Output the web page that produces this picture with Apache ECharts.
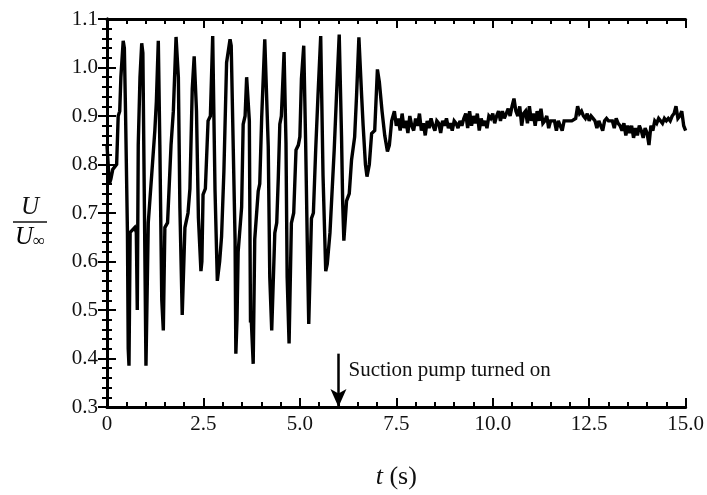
<!DOCTYPE html>
<html><head><meta charset="utf-8">
<script src="https://cdn.jsdelivr.net/npm/echarts@6/dist/echarts.min.js"></script>
<style>html,body{margin:0;padding:0;background:#fff}#c{width:707px;height:495px}</style>
</head><body><div id="c"></div>
<script>
// Oscillating part (key samples)
const oscTime = [0.00,0.03,0.06,0.10,0.15,0.20,0.25,0.29,0.33,0.36,0.42,0.45,0.48,0.53,0.55,0.57,0.60,0.64,0.72,0.76,0.785,0.81,0.855,0.90,0.93,0.97,1.01,1.07,1.16,1.24,1.28,1.33,1.37,1.42,1.46,1.50,1.57,1.66,1.72,1.79,1.85,1.89,1.95,2.02,2.10,2.15,2.21,2.26,2.32,2.37,2.435,2.46,2.49,2.55,2.62,2.68,2.74,2.80,2.86,2.92,2.97,3.03,3.10,3.19,3.22,3.27,3.32,3.34,3.37,3.40,3.49,3.53,3.58,3.62,3.65,3.69,3.72,3.74,3.79,3.83,3.92,3.96,4.01,4.09,4.18,4.22,4.27,4.35,4.40,4.44,4.48,4.52,4.59,4.64,4.67,4.72,4.78,4.84,4.90,4.96,5.00,5.04,5.10,5.15,5.20,5.23,5.30,5.35,5.41,5.47,5.54,5.60,5.67,5.71,5.78,5.89,5.95,6.02,6.08,6.11,6.14,6.21,6.28,6.34,6.42,6.47,6.53,6.60,6.64,6.70,6.74,6.80,6.86,6.94,7.01,7.06,7.13,7.20,7.27,7.32,7.38,7.45,7.50];
const oscU = [0.84,0.80,0.76,0.77,0.79,0.79,0.80,0.90,0.91,0.98,1.055,1.04,0.91,0.66,0.42,0.385,0.66,0.66,0.67,0.66,0.50,0.84,0.98,1.05,1.03,0.71,0.385,0.68,0.78,0.87,0.93,1.055,0.84,0.52,0.458,0.67,0.68,0.84,0.91,1.063,0.98,0.71,0.49,0.67,0.70,0.75,0.956,1.023,0.91,0.69,0.58,0.60,0.738,0.75,0.89,0.90,1.065,0.748,0.56,0.60,0.652,0.785,1.01,1.058,1.045,1.043,0.646,0.41,0.48,0.62,0.712,0.883,0.90,0.98,0.98,0.89,0.474,0.48,0.389,0.646,0.745,0.76,0.897,1.058,0.837,0.567,0.458,0.659,0.68,0.771,0.883,0.90,1.032,0.844,0.568,0.431,0.679,0.70,0.83,0.84,0.857,0.976,1.045,0.844,0.60,0.471,0.689,0.70,0.83,0.943,1.065,0.778,0.58,0.595,0.659,0.83,0.943,1.068,0.857,0.72,0.643,0.725,0.74,0.81,0.857,0.943,1.062,0.943,0.88,0.80,0.775,0.80,0.864,0.87,0.996,0.97,0.91,0.86,0.827,0.84,0.89,0.91,0.88];
// Steady part after the pump is on: samples every 0.05 s from 7.55 s
const steadyStart = 7.55, steadyStep = 0.05;
const steadyU = [
0.895,0.87,0.905,0.875,0.89,0.865,0.90,0.88,0.87,0.895,
0.88,0.905,0.87,0.885,0.86,0.89,0.875,0.895,0.88,0.87,
0.89,0.885,0.865,0.89,0.88,0.895,0.875,0.885,0.87,0.89,
0.885,0.875,0.89,0.88,0.895,0.905,0.875,0.91,0.88,0.90,
0.885,0.905,0.87,0.895,0.88,0.89,0.875,0.90,0.895,0.905,
0.885,0.90,0.91,0.89,0.91,0.895,0.905,0.915,0.90,0.92,
0.936,0.91,0.90,0.92,0.88,0.905,0.91,0.885,0.92,0.89,
0.905,0.88,0.91,0.89,0.915,0.885,0.89,0.90,0.875,0.89,
0.89,0.89,0.87,0.89,0.89,0.87,0.89,0.893,0.89,0.892,
0.89,0.892,0.895,0.92,0.905,0.91,0.90,0.895,0.905,0.89,
0.90,0.895,0.89,0.875,0.89,0.893,0.87,0.89,0.895,0.89,
0.893,0.89,0.875,0.895,0.885,0.88,0.87,0.885,0.86,0.88,
0.865,0.88,0.855,0.875,0.86,0.88,0.87,0.855,0.875,0.865,
0.84,0.88,0.87,0.89,0.885,0.895,0.89,0.885,0.895,0.89,
0.895,0.89,0.90,0.905,0.92,0.895,0.90,0.91,0.88,0.87];
const xTickLabels = ['0','2.5','5.0','7.5','10.0','12.5','15.0'];
const yTickLabels = ['0.3','0.4','0.5','0.6','0.7','0.8','0.9','1.0','1.1'];
const pumpTime = 6.0;
const pumpArrowTop = 0.41;
const pumpText = 'Suction pump turned on';

const data = [];
oscTime.forEach((t, i) => data.push([t, oscU[i]]));
steadyU.forEach((u, i) => data.push([+(steadyStart + i * steadyStep).toFixed(2), u]));

const FONT = 'Liberation Serif';
const INK = '#111';
const chart = echarts.init(document.getElementById('c'), null, {renderer: 'canvas'});
const axisLine = {show: true, lineStyle: {color: '#000', width: 3}};
const tick = {show: true, inside: true, length: 9, lineStyle: {color: '#000', width: 2}};
const minor = {show: true, splitNumber: 5, length: 5, lineStyle: {color: '#000', width: 2}};
const xBase = {type: 'value', min: 0, max: 15, interval: 2.5, splitLine: {show: false},
  axisLine, axisTick: tick, minorTick: minor};
const yBase = {type: 'value', min: 0.3, max: 1.1, interval: 0.1, splitLine: {show: false},
  axisLine, axisTick: tick, minorTick: minor};

chart.setOption({
  animation: false,
  backgroundColor: '#fff',
  grid: {left: 107, right: 21, top: 19, bottom: 72, containLabel: false},
  xAxis: [
    Object.assign({}, xBase, {position: 'bottom',
      axisLabel: {margin: 7, fontFamily: FONT, fontSize: 21, color: INK,
        formatter: v => xTickLabels[Math.round(v / 2.5)]},
      name: '{i|t} (s)', nameLocation: 'middle', nameGap: 57,
      nameTextStyle: {fontFamily: FONT, fontSize: 26, color: INK,
        rich: {i: {fontFamily: FONT, fontSize: 26, fontStyle: 'italic', color: INK}}}}),
    Object.assign({}, xBase, {position: 'top', axisLabel: {show: false}})
  ],
  yAxis: [
    Object.assign({}, yBase, {position: 'left',
      axisLabel: {margin: 9, fontFamily: FONT, fontSize: 21, color: INK,
        formatter: v => yTickLabels[Math.round((v - 0.3) / 0.1)]}}),
    Object.assign({}, yBase, {position: 'right', axisLabel: {show: false}})
  ],
  series: [{
    type: 'line', data: data, showSymbol: false, symbol: 'none',
    lineStyle: {color: '#000', width: 3.4, join: 'miter', miterLimit: 3}, z: 5,
    markLine: {silent: true, symbol: ['none', 'arrow'], symbolSize: [12, 18],
      lineStyle: {color: '#000', width: 2.5, type: 'solid'}, label: {show: false},
      data: [[{coord: [pumpTime, pumpArrowTop]}, {coord: [pumpTime, 0.3]}]]}
  }]
});

const p = chart.convertToPixel({xAxisIndex: 0, yAxisIndex: 0}, [pumpTime, 0.375]);
chart.setOption({graphic: [
  {type: 'text', x: p[0] + 10, y: p[1], style: {text: pumpText, fontFamily: FONT, fontSize: 21,
    fill: INK, align: 'left', verticalAlign: 'middle'}},
  {type: 'group', x: 30, y: 222, children: [
    {type: 'text', x: 0, y: -2, style: {text: 'U', fontFamily: FONT, fontSize: 25, fontStyle: 'italic',
      fill: INK, align: 'center', verticalAlign: 'bottom'}},
    {type: 'line', shape: {x1: -17, y1: 0, x2: 17, y2: 0}, style: {stroke: INK, lineWidth: 1.3}},
    {type: 'text', x: 0, y: 2, style: {text: '{a|U}{b|∞}', align: 'center', verticalAlign: 'top',
      rich: {a: {fontFamily: FONT, fontSize: 25, fontStyle: 'italic', color: INK},
             b: {fontFamily: FONT, fontSize: 17, color: INK, padding: [9, 0, 0, 0]}}}}
  ]}
]});
</script></body></html>
